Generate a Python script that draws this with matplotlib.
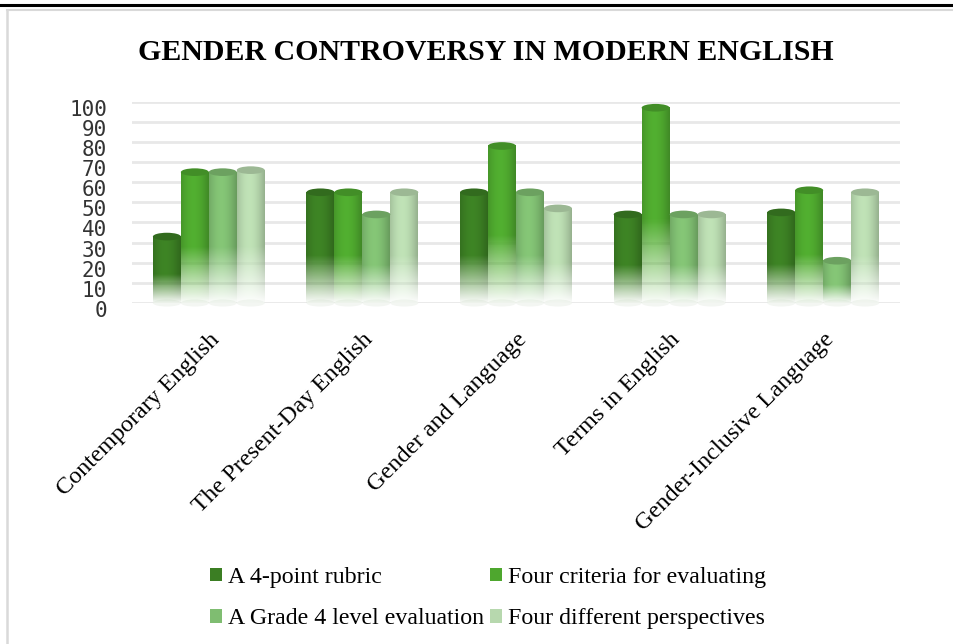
import numpy as np
import matplotlib.pyplot as plt
from matplotlib.patches import Ellipse, Patch
from matplotlib.lines import Line2D
from matplotlib import transforms
from matplotlib.colors import to_rgb

categories = ['Contemporary English', 'The Present-Day English', 'Gender and Language',
              'Terms in English', 'Gender-Inclusive Language']
series_names = ['A 4-point rubric', 'Four criteria for evaluating',
                'A Grade 4 level evaluation', 'Four different perspectives']
rubric = [33, 55, 55, 44, 45]
criteria = [65, 55, 78, 97, 56]
grade4 = [65, 44, 55, 44, 21]
perspectives = [66, 55, 47, 44, 55]
yticks = [0, 10, 20, 30, 40, 50, 60, 70, 80, 90, 100]
colors = ['#3b7e23', '#4ea72e', '#7fbd71', '#b7d8ae']

W, H = 954, 644
fig = plt.figure(figsize=(W / 100, H / 100), dpi=100)
ax = fig.add_axes([132 / W, 1 - 303 / H, 768 / W, 201.3 / H])

x = np.arange(len(categories))
w = 0.182
series = [rubric, criteria, grade4, perspectives]


def bar_image(rgb, nx=40, ny=120):
    # cylinder shading left-right, fade to white towards the bottom
    u = np.linspace(0, 1, nx)
    shade = 0.78 + 0.27 * np.sin(np.pi * (0.15 + 0.8 * u))
    v = np.linspace(0, 1, ny)[:, None]
    alpha = np.clip(0.03 + v / 0.44, 0, 1)
    img = np.zeros((ny, nx, 4))
    for k in range(3):
        img[:, :, k] = np.clip(rgb[k] * shade[None, :], 0, 1)
    img[:, :, 3] = alpha
    return img


for i, vals in enumerate(series):
    rgb = np.array(to_rgb(colors[i]))
    bars = ax.bar(x + (i - 1.5) * w, vals, width=w, color='none', edgecolor='none', zorder=3)
    for rect in bars:
        x0 = rect.get_x()
        h = rect.get_height()
        ax.imshow(bar_image(rgb), extent=[x0, x0 + w, 0, h], aspect='auto',
                  origin='lower', zorder=3, interpolation='bilinear')
        ax.add_patch(Ellipse((x0 + w / 2, 0), w, 3.5, facecolor='#f3f6f2',
                             edgecolor='none', zorder=2.9, clip_on=False))
        ax.add_patch(Ellipse((x0 + w / 2, h), w, 3.8, facecolor=rgb * 0.85,
                             edgecolor='none', zorder=4, clip_on=False))

ax.set_xlim(-0.5, 4.5)
ax.set_ylim(0, 100)
ax.set_yticks(yticks)
ax.yaxis.grid(True, color='#e8e8e8', linewidth=2)
ax.set_axisbelow(True)
for s in ax.spines.values():
    s.set_visible(False)
ax.tick_params(axis='both', length=0)
ax.tick_params(axis='y', pad=18)
ax.set_yticklabels([str(t) for t in yticks], family='DejaVu Sans Mono', fontsize=15, color='#333333')
for lbl in ax.get_yticklabels():
    lbl.set_transform(lbl.get_transform() + transforms.ScaledTranslation(0, -6 / 100, fig.dpi_scale_trans))
ax.set_xticks(x)
ax.set_xticklabels(categories, rotation=45, ha='right', rotation_mode='anchor',
                   family='Liberation Serif', fontsize=17.5)
ax.tick_params(axis='x', pad=19)

fig.text(486 / W, 1 - 53 / H, 'GENDER CONTROVERSY IN MODERN ENGLISH', ha='center', va='center',
         fontsize=21.5, fontweight='bold', family='Liberation Serif')

# legend, column-major so rows read like the original
order = [0, 2, 1, 3]
handles = [Patch(facecolor=colors[k], edgecolor='none') for k in order]
labels = [series_names[k] for k in order]
fig.legend(handles, labels, ncol=2, loc='upper left', bbox_to_anchor=(210 / W, 1 - 567 / H),
           frameon=False, prop={'family': 'Liberation Serif', 'size': 17.2},
           handlelength=0.5, handleheight=0.5, handletextpad=0.25, columnspacing=0.25,
           labelspacing=0.85, borderpad=0, borderaxespad=0)

# frame lines
fig.add_artist(Line2D([0, 1], [1 - 5 / H, 1 - 5 / H], color='black', linewidth=2.2))
fig.add_artist(Line2D([7 / W, 1], [1 - 10 / H, 1 - 10 / H], color='#d9d9d9', linewidth=1.5))
fig.add_artist(Line2D([7 / W, 7 / W], [1 - 10 / H, 0], color='#d9d9d9', linewidth=1.8))

fig.savefig('out.png', dpi=100)
